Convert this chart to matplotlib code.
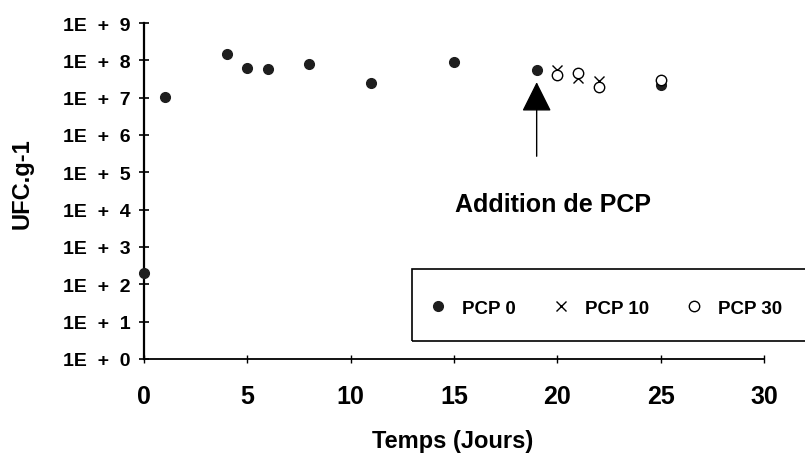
import numpy as np
import matplotlib.pyplot as plt
from matplotlib.patches import Rectangle

plt.rcParams['font.family'] = ['Liberation Sans', 'DejaVu Sans']
plt.rcParams['font.weight'] = 'bold'

# values (UFC per g)
days_pcp0 = [0, 1, 4, 5, 6, 8, 11, 15, 19, 25]
ufc_pcp0 = [2.0e2, 1.05e7, 1.5e8, 6.3e7, 6.0e7, 8.0e7, 2.4e7, 9.0e7, 5.6e7, 2.2e7]

days_pcp10 = [20, 21, 22]
ufc_pcp10 = [5.6e7, 3.4e7, 2.8e7]

days_pcp30 = [20, 21, 22, 25]
ufc_pcp30 = [4.1e7, 4.7e7, 1.9e7, 3.0e7]

ytick_vals = [1e0, 1e1, 1e2, 1e3, 1e4, 1e5, 1e6, 1e7, 1e8, 1e9]
ytick_labels = ['1E  +  %d' % i for i in range(10)]
xtick_vals = [0, 5, 10, 15, 20, 25, 30]

fig = plt.figure(figsize=(8.05, 4.56), dpi=100)
W, H = 805, 456
ax = fig.add_axes([144 / W, 1 - 360 / H, (764 - 144) / W, (360 - 24) / H])

ax.set_yscale('log')
ax.set_xlim(0, 30)
ax.set_ylim(1, 1e9)

ax.plot(days_pcp0, ufc_pcp0, 'o', color='#1e1e1e', ms=7, clip_on=False,
        zorder=3, label='PCP 0')
ax.plot(days_pcp10, ufc_pcp10, 'x', color='black', ms=7, mew=1.0,
        clip_on=False, zorder=4, label='PCP 10')
ax.plot(days_pcp30, ufc_pcp30, 'o', mfc='white', mec='black', ms=7.5,
        mew=1.0, clip_on=False, zorder=5, label='PCP 30')

# arrow for the PCP addition
ax.annotate('', xy=(19, 2.6e7), xytext=(19, 2.7e5),
            arrowprops=dict(arrowstyle='-|>,head_length=0.4,head_width=0.2',
                            mutation_scale=47, color='black', lw=1,
                            shrinkA=0, shrinkB=0))
ax.text(19.8, 10 ** 4.15, 'Addition de PCP', ha='center', va='center',
        fontsize=18, fontweight='bold')

ax.spines['top'].set_visible(False)
ax.spines['right'].set_visible(False)
ax.spines['left'].set_linewidth(1.6)
ax.spines['bottom'].set_linewidth(1.3)

ax.set_yticks(ytick_vals)
ax.set_yticklabels(ytick_labels)
ax.yaxis.set_minor_locator(plt.NullLocator())
ax.set_xticks(xtick_vals)
ax.tick_params(axis='y', direction='inout', length=7, width=1.2,
               labelsize=14, pad=6)
ax.tick_params(axis='x', direction='inout', length=6, width=1.0,
               labelsize=18, pad=15)

ax.set_xlabel('Temps (Jours)', fontsize=17, fontweight='bold')
ax.xaxis.set_label_coords(0.497, -0.243)
ax.xaxis.label.set_verticalalignment('center')
ax.set_ylabel('UFC.g-1', fontsize=17, fontweight='bold')
ax.yaxis.set_label_coords(-0.197, 0.524)
ax.yaxis.label.set_verticalalignment('center')

# legend box runs past the right edge of the figure
box = Rectangle((412 / W, 1 - 342 / H), (830 - 412) / W, 72 / H,
                transform=fig.transFigure, fill=False, lw=1.2,
                edgecolor='black', zorder=6)
fig.patches.append(box)
leg = ax.legend(loc='center left', ncol=3, bbox_to_anchor=(430 / W, 1 - 309 / H),
                bbox_transform=fig.transFigure, borderaxespad=0, borderpad=0,
                frameon=False, handlelength=0.8, handletextpad=0.9,
                columnspacing=2.0, fontsize=13.5)

fig.savefig('out.png', dpi=100)
